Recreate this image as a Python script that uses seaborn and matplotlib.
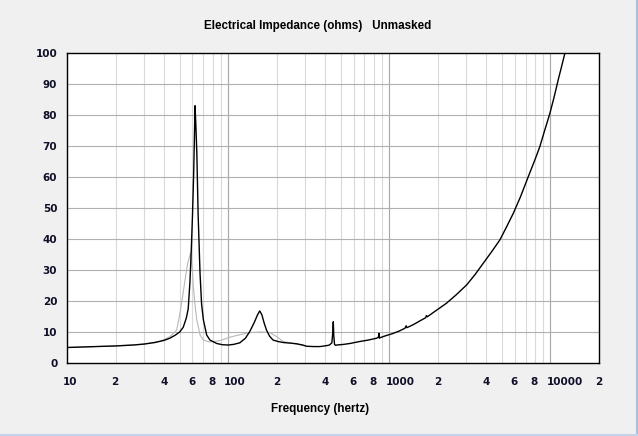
import numpy as np
import pandas as pd
import matplotlib
matplotlib.use('Agg')
import matplotlib.pyplot as plt
import matplotlib.transforms as mtransforms
from matplotlib.lines import Line2D
import seaborn as sns

# ── DATA ──────────────────────────────────────────────────────────────────
freq_main = [10, 15, 20, 25.8, 30, 35, 40, 43.5, 47, 50, 52.6, 55, 56.5, 57.9,
             59, 60.1, 61, 61.6, 62.3, 63.0, 63.9, 65.1, 66.9, 68.4, 70.2,
             73.6, 77.1, 84.9, 92, 100, 108, 118, 128, 136, 145, 152, 157,
             162, 167, 173, 181, 190, 205, 220, 245, 266, 290, 307, 340, 371,
             408, 425, 440, 446, 449, 452, 457, 465, 471, 520, 570, 650, 740,
             834, 855, 862, 868, 880, 950, 1050, 1150, 1250, 1272, 1285, 1400,
             1550, 1680, 1700, 1720, 1900, 2265, 2600, 3020, 3400, 3830, 4300,
             4853, 5350, 5880, 6500, 7280, 8000, 8590, 9200, 9910, 10500,
             11160, 11700, 12280]
ohms_main = [5.0, 5.3, 5.5, 5.8, 6.1, 6.6, 7.3, 8.0, 9.0, 10.0, 11.5, 14.5,
             17.5, 26, 36, 48, 60, 70, 83, 77, 68, 48, 29, 19, 13.9,
             9.0, 7.4, 6.3, 5.9, 5.8, 6.0, 6.5, 8.0, 10.1, 13.0, 15.5, 16.8,
             15.5, 13.0, 10.6, 8.6, 7.4, 6.9, 6.6, 6.4, 6.2, 5.8, 5.4, 5.3, 5.3,
             5.6, 5.8, 6.5, 10.0, 13.3, 9.0, 6.0, 5.7, 5.8, 6.0, 6.3, 6.9, 7.4,
             8.0, 8.3, 9.6, 8.0, 8.2, 8.8, 9.5, 10.3, 11.2, 12.0, 11.4, 12.3,
             13.6, 14.6, 15.3, 14.9, 16.5, 19.3, 22.0, 25.2, 28.5, 32.2, 35.8,
             39.7, 44.0, 48.3, 53.5, 60.1, 65.5, 69.8, 75.0, 80.5, 85.5,
             91.3, 95.5, 99.9]

freq_ref = [10, 20, 30, 37.8, 43.5, 47.9, 50.2, 52, 54, 56, 58.5, 60, 60.8,
            62.5, 63.9, 67, 70.2, 76, 81, 90, 102, 120, 136, 160, 182, 200,
            220, 260, 300]
ohms_ref = [5.0, 5.5, 6.1, 7.0, 8.5, 10.6, 16.0, 21.0, 26.8, 32.0, 35.6, 30.0,
            24.6, 18.0, 13.9, 9.0, 7.4, 6.8, 6.9, 7.3, 8.3, 9.2, 9.8, 10.0,
            9.8, 8.5, 6.9, 6.2, 5.5]

x_ticks = [10, 20, 30, 40, 50, 60, 70, 80, 90, 100, 200, 300, 400, 500, 600,
           700, 800, 900, 1000, 2000, 3000, 4000, 5000, 6000, 7000, 8000,
           9000, 10000, 20000]
x_labels = ['10', '2', '', '4', '', '6', '', '8', '', '100', '2', '', '4', '',
            '6', '', '8', '', '1000', '2', '', '4', '', '6', '', '8', '',
            '10000', '2']
decades = [100, 1000, 10000]

main = pd.DataFrame({'Frequency': freq_main, 'Impedance': ohms_main})
ref = pd.DataFrame({'Frequency': freq_ref, 'Impedance': ohms_ref})

# ── STYLE ─────────────────────────────────────────────────────────────────
sns.set_style('white')
BG = '#f0f0f0'
TXT = '#101028'
plt.rcParams.update({
    'font.family': ['DejaVu Sans'],
    'figure.facecolor': BG,
})

fig = plt.figure(figsize=(6.38, 4.36), dpi=100)
ax = fig.add_axes([67/638, 1 - 363/436, 532/638, 310/436])
ax.set_facecolor('white')

ax.set_xscale('log')
ax.set_xlim(10, 20000)
ax.set_ylim(0, 100)

# grid
for f in x_ticks:
    ax.axvline(f, color='#dadada', lw=0.8, zorder=0)
for f in decades:
    ax.axvline(f, color='#a8a8a8', lw=0.8, zorder=0)
for v in range(10, 100, 10):
    ax.axhline(v, color='#b0b0b0', lw=0.8, zorder=0)

sns.lineplot(data=ref, x='Frequency', y='Impedance', ax=ax, color='#b8b8b8',
             lw=0.8, estimator=None, sort=False, zorder=2)
sns.lineplot(data=main, x='Frequency', y='Impedance', ax=ax, color='black',
             lw=1.0, estimator=None, sort=False, zorder=3)

ax.set_xticks(x_ticks)
ax.set_xticklabels(x_labels)
ax.minorticks_off()
ax.set_yticks(range(0, 101, 10))
ax.tick_params(length=0, labelsize=7.5, colors=TXT)
ax.tick_params(axis='x', pad=10)
ax.tick_params(axis='y', pad=7)
shift = mtransforms.ScaledTranslation(-4/100, 0, fig.dpi_scale_trans)
for lab in ax.get_xticklabels():
    lab.set_fontweight('bold')
    lab.set_horizontalalignment('left')
    lab.set_transform(lab.get_transform() + shift)
for lab in ax.get_yticklabels():
    lab.set_fontweight('bold')

for s in ax.spines.values():
    s.set_color('black')
    s.set_linewidth(1.0)

ax.set_xlabel('')
ax.set_ylabel('')
fig.text(318/638, 1 - 26/436, 'Electrical Impedance (ohms)   Unmasked',
         ha='center', va='center', fontsize=8.4, fontweight='bold',
         family='Liberation Sans', color='black')
fig.text(320/638, 1 - 409/436, 'Frequency (hertz)',
         ha='center', va='center', fontsize=8.4, fontweight='bold',
         family='Liberation Sans', color='black')

# window frame edges of the screenshot
fig.add_artist(Line2D([636.5/638, 636.5/638], [0, 1], color='#a9c0de', lw=1.5,
                      transform=fig.transFigure))
fig.add_artist(Line2D([0, 1], [1.5/436, 1.5/436], color='#c4d4ea', lw=1.5,
                      transform=fig.transFigure))

fig.savefig('out.png', dpi=100, facecolor=BG)
